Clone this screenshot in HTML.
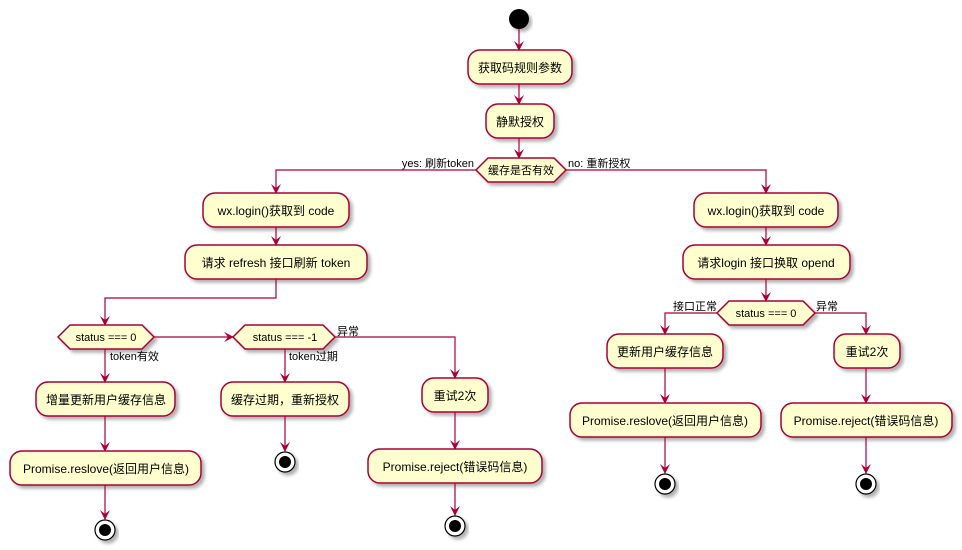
<!DOCTYPE html>
<html><head><meta charset="utf-8"><style>
html,body{margin:0;padding:0;background:#fff}
svg{display:block}
text{font-family:"Liberation Sans","Noto Sans CJK SC",sans-serif;font-size:12px;fill:#000}
.b{fill:#FEFECE;stroke:#A80036;stroke-width:1.5;filter:url(#sh)}
.l{fill:none;stroke:#A80036;stroke-width:1.2;marker-end:url(#ar)}
.n{fill:none;stroke:#A80036;stroke-width:1.2}
.s{font-size:11px}
</style></head><body>
<svg width="962" height="550" viewBox="0 0 962 550" xmlns="http://www.w3.org/2000/svg">
<defs>
<filter id="sh" x="-20%" y="-20%" width="140%" height="160%"><feDropShadow dx="3" dy="3" stdDeviation="1.5" flood-color="#000" flood-opacity="0.3"/></filter>
<marker id="ar" markerWidth="10" markerHeight="10" refX="9" refY="5" orient="auto" markerUnits="userSpaceOnUse"><path d="M0,0 L10,5 L0,10 L4,5 Z" fill="#A80036"/></marker>
</defs>
<!-- start -->
<circle cx="519" cy="19" r="10" fill="#000" filter="url(#sh)"/>
<line class="l" x1="519" y1="29" x2="519" y2="50"/>
<rect class="b" x="468" y="50" width="104" height="34" rx="12"/><text x="520" y="72" text-anchor="middle">获取码规则参数</text>
<line class="l" x1="519" y1="84" x2="519" y2="104"/>
<rect class="b" x="486" y="104" width="68" height="34" rx="12"/><text x="520" y="126" text-anchor="middle">静默授权</text>
<line class="l" x1="519" y1="138" x2="519" y2="158"/>
<polygon class="b" points="476,170 488,158 554,158 566,170 554,182 488,182"/><text x="521" y="174" text-anchor="middle" class="s">缓存是否有效</text>
<text x="474" y="167" text-anchor="end" class="s">yes: 刷新token</text>
<text x="568" y="167" class="s">no: 重新授权</text>
<polyline class="l" points="476,170 276,170 276,193"/>
<polyline class="l" points="566,170 766,170 766,193"/>
<!-- left -->
<rect class="b" x="203" y="193" width="146" height="34" rx="12"/><text x="276" y="215" text-anchor="middle">wx.login()获取到 code</text>
<line class="l" x1="276" y1="227" x2="276" y2="245"/>
<rect class="b" x="185" y="245" width="182" height="34" rx="12"/><text x="276" y="267" text-anchor="middle">请求 refresh 接口刷新 token</text>
<polyline class="l" points="276,279 276,298 105,298 105,325"/>
<polygon class="b" points="58,337 70,325 142,325 154,337 142,349 70,349"/><text x="106" y="341" text-anchor="middle" class="s">status === 0</text>
<polyline class="l" points="154,337 233,337"/>
<polygon class="b" points="233,337 245,325 323,325 335,337 323,349 245,349"/><text x="285" y="341" text-anchor="middle" class="s">status === -1</text>
<text x="110" y="360" class="s">token有效</text>
<text x="289" y="360" class="s">token过期</text>
<text x="337" y="335" class="s">异常</text>
<line class="l" x1="105" y1="349" x2="105" y2="382"/>
<polyline class="l" points="335,337 455,337 455,378"/>
<line class="l" x1="285" y1="349" x2="285" y2="382"/>
<rect class="b" x="36" y="382" width="139" height="34" rx="12"/><text x="106" y="404" text-anchor="middle">增量更新用户缓存信息</text>
<line class="l" x1="105" y1="416" x2="105" y2="451"/>
<rect class="b" x="10" y="451" width="191" height="34" rx="12"/><text x="106" y="473" text-anchor="middle">Promise.reslove(返回用户信息)</text>
<line class="l" x1="105" y1="485" x2="105" y2="519"/>
<circle cx="105" cy="530" r="10" fill="#fff" stroke="#000" stroke-width="1.2" filter="url(#sh)"/><circle cx="105" cy="530" r="6" fill="#000"/>
<rect class="b" x="221" y="382" width="128" height="34" rx="12"/><text x="285" y="404" text-anchor="middle">缓存过期，重新授权</text>
<line class="l" x1="285" y1="416" x2="285" y2="451"/>
<circle cx="285" cy="462" r="10" fill="#fff" stroke="#000" stroke-width="1.2" filter="url(#sh)"/><circle cx="285" cy="462" r="6" fill="#000"/>
<rect class="b" x="422" y="378" width="66" height="34" rx="12"/><text x="455" y="400" text-anchor="middle">重试2次</text>
<line class="l" x1="455" y1="412" x2="455" y2="449"/>
<rect class="b" x="368" y="449" width="174" height="34" rx="12"/><text x="455" y="471" text-anchor="middle">Promise.reject(错误码信息)</text>
<line class="l" x1="455" y1="483" x2="455" y2="515"/>
<circle cx="455" cy="526" r="10" fill="#fff" stroke="#000" stroke-width="1.2" filter="url(#sh)"/><circle cx="455" cy="526" r="6" fill="#000"/>
<!-- right -->
<rect class="b" x="694" y="193" width="144" height="34" rx="12"/><text x="766" y="215" text-anchor="middle">wx.login()获取到 code</text>
<line class="l" x1="766" y1="227" x2="766" y2="245"/>
<rect class="b" x="683" y="245" width="167" height="34" rx="12"/><text x="766" y="267" text-anchor="middle">请求login 接口换取 opend</text>
<line class="l" x1="766" y1="279" x2="766" y2="301"/>
<polygon class="b" points="717,313 729,301 803,301 815,313 803,325 729,325"/><text x="766" y="317" text-anchor="middle" class="s">status === 0</text>
<text x="717" y="310" text-anchor="end" class="s">接口正常</text>
<text x="816" y="310" class="s">异常</text>
<polyline class="l" points="717,313 665,313 665,334"/>
<polyline class="l" points="815,313 866,313 866,334"/>
<rect class="b" x="607" y="334" width="116" height="34" rx="12"/><text x="665" y="356" text-anchor="middle">更新用户缓存信息</text>
<line class="l" x1="665" y1="368" x2="665" y2="403"/>
<rect class="b" x="570" y="403" width="191" height="34" rx="12"/><text x="665" y="425" text-anchor="middle">Promise.reslove(返回用户信息)</text>
<line class="l" x1="665" y1="437" x2="665" y2="473"/>
<circle cx="665" cy="484" r="10" fill="#fff" stroke="#000" stroke-width="1.2" filter="url(#sh)"/><circle cx="665" cy="484" r="6" fill="#000"/>
<rect class="b" x="834" y="334" width="66" height="34" rx="12"/><text x="867" y="356" text-anchor="middle">重试2次</text>
<line class="l" x1="866" y1="368" x2="866" y2="403"/>
<rect class="b" x="781" y="403" width="171" height="34" rx="12"/><text x="866" y="425" text-anchor="middle">Promise.reject(错误码信息)</text>
<line class="l" x1="866" y1="437" x2="866" y2="473"/>
<circle cx="866" cy="484" r="10" fill="#fff" stroke="#000" stroke-width="1.2" filter="url(#sh)"/><circle cx="866" cy="484" r="6" fill="#000"/>
</svg>
</body></html>
